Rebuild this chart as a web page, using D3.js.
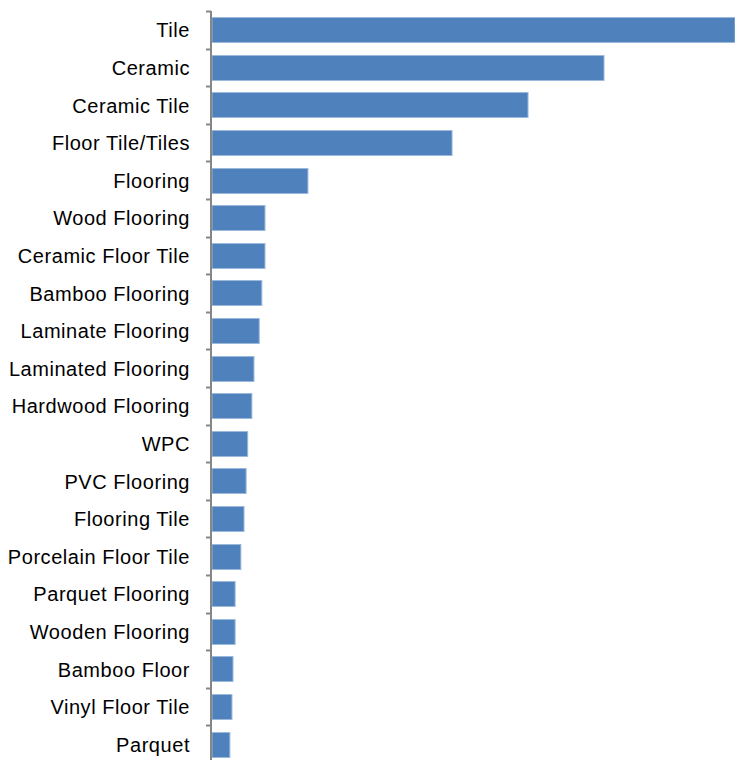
<!DOCTYPE html>
<head>
  <meta charset="utf-8">
  <script src="https://d3js.org/d3.v7.min.js"></script>
  <style>
    body { margin: 0; background: #fff; }
    text.label {
      font-family: "Liberation Sans", Arial, sans-serif;
      font-size: 20px;
      letter-spacing: 0.55px;
      fill: #000;
    }
    rect.bar {
      fill: #4f81bd;
      stroke: #9bb8dd;
      stroke-width: 1;
    }
    .axis line { stroke: #868686; }
  </style>
</head>
<body>
  <div id="chart"></div>
  <script>
    var categories = ["Tile", "Ceramic", "Ceramic Tile", "Floor Tile/Tiles", "Flooring",
      "Wood Flooring", "Ceramic Floor Tile", "Bamboo Flooring", "Laminate Flooring",
      "Laminated Flooring", "Hardwood Flooring", "WPC", "PVC Flooring", "Flooring Tile",
      "Porcelain Floor Tile", "Parquet Flooring", "Wooden Flooring", "Bamboo Floor",
      "Vinyl Floor Tile", "Parquet"];
    var values = [100, 75, 60.5, 46, 18.5, 10.3, 10.3, 9.7, 9.2, 8.2, 7.8, 7.0, 6.7,
      6.3, 5.7, 4.6, 4.6, 4.2, 4.0, 3.6];

    var width = 735, height = 760;
    var plotLeft = 211, plotTop = 11, plotBottom = 763;

    var svg = d3.select("#chart").append("svg")
      .attr("width", width)
      .attr("height", height);

    var x = d3.scaleLinear()
      .domain([0, 100])
      .range([plotLeft, 735]);

    var y = d3.scaleBand()
      .domain(categories)
      .range([plotTop, plotBottom])
      .paddingInner(0.33)
      .paddingOuter(0.165);

    var data = categories.map(function(c, i) { return {name: c, value: values[i]}; });

    svg.selectAll("rect.bar")
        .data(data)
      .enter().append("rect")
        .attr("class", "bar")
        .attr("x", x(0) + 1)
        .attr("y", function(d) { return Math.round(y(d.name)) + 0.5; })
        .attr("width", function(d) { return x(d.value) - x(0) - 1; })
        .attr("height", Math.round(y.bandwidth()));

    // axis with ticks at category boundaries
    var axis = svg.append("g").attr("class", "axis");
    var step = y.step();
    var bounds = d3.range(categories.length + 1).map(function(i) {
      return y(categories[0]) - step * y.paddingInner() / 2 + i * step;
    });
    axis.selectAll("line.tick")
        .data(bounds)
      .enter().append("line")
        .attr("class", "tick")
        .attr("x1", plotLeft - 5).attr("x2", plotLeft)
        .attr("y1", function(d) { return Math.round(d) + 0.5; })
        .attr("y2", function(d) { return Math.round(d) + 0.5; })
        .style("stroke-width", 2);
    axis.append("line")
      .attr("x1", plotLeft).attr("x2", plotLeft)
      .attr("y1", plotTop).attr("y2", plotBottom)
      .style("stroke-width", 2);

    svg.selectAll("text.label")
        .data(data)
      .enter().append("text")
        .attr("class", "label")
        .attr("x", 190)
        .attr("y", function(d) { return y(d.name) + y.bandwidth() / 2; })
        .attr("dy", "0.38em")
        .attr("text-anchor", "end")
        .text(function(d) { return d.name; });
  </script>
</body>
